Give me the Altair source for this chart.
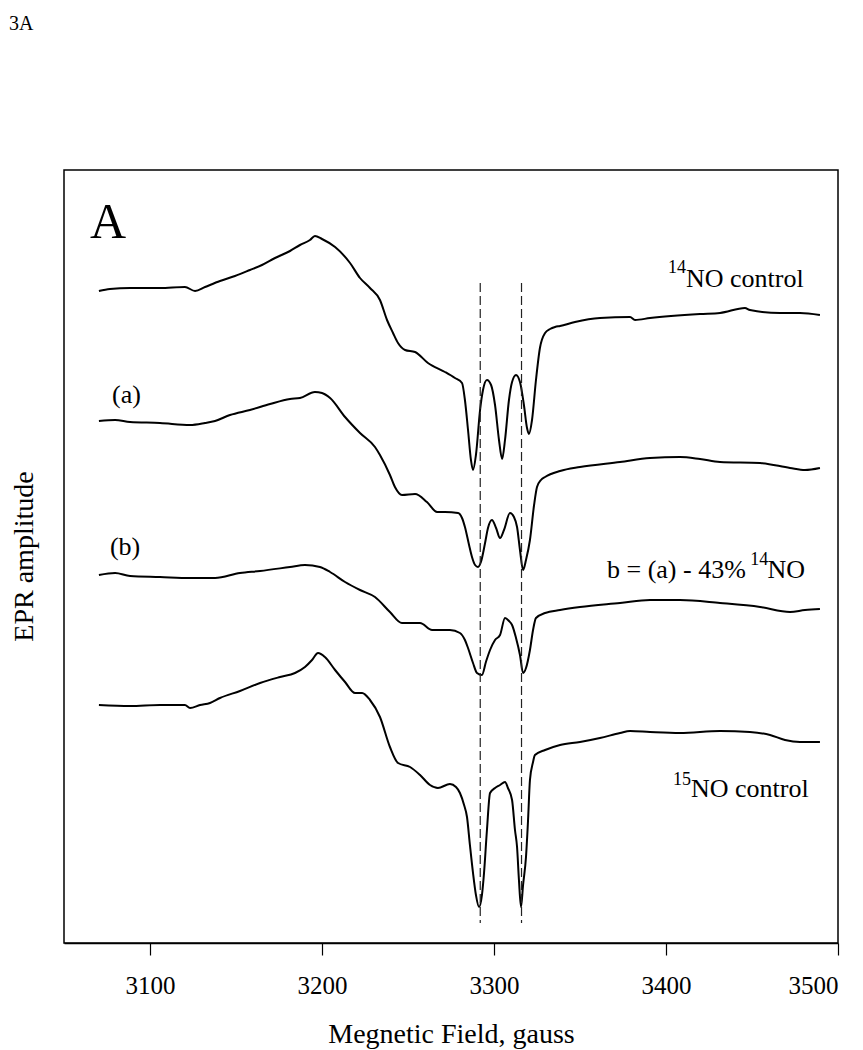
import altair as alt
import pandas as pd

# ---------------- data ----------------
# magnetic field (gauss) and EPR amplitude (arbitrary units, offset traces)
field_14no = [3070.3, 3076.7, 3088.4, 3105.8, 3120.3, 3126.2, 3132.0, 3140.7, 3149.4, 3158.1,
              3165.1, 3172.7, 3181.4, 3187.2, 3193.0, 3195.9, 3200.0, 3207.6, 3216.3, 3222.1,
              3227.9, 3233.7, 3237.8, 3241.3, 3244.2, 3248.3, 3254.1, 3261.6, 3271.5, 3277.3,
              3281.4, 3283.1, 3284.9, 3286.6, 3287.8, 3289.5, 3291.9, 3293.6, 3295.9, 3298.3,
              3300.6, 3302.9, 3304.7, 3306.4, 3308.7, 3310.5, 3312.8, 3315.1, 3317.4, 3319.2,
              3320.3, 3322.1, 3324.4, 3326.7, 3329.7, 3332.6, 3335.5, 3338.4, 3347.1, 3361.6,
              3379.1, 3382.0, 3390.7, 3419.8, 3431.4, 3445.9, 3448.8, 3466.3, 3477.9, 3489.5]
amp_14no = [652, 654, 655, 655, 656, 652, 656, 662, 667, 673,
            678, 685, 692, 698, 703, 707, 704, 696, 680, 665,
            655, 643, 623, 610, 600, 593, 591, 580, 571, 565,
            560, 543, 513, 483, 473, 488, 533, 553, 563, 558,
            538, 503, 484, 503, 543, 561, 568, 561, 538, 515,
            509, 523, 563, 595, 610, 614, 616, 617, 621, 625,
            626, 623, 625, 629, 630, 635, 633, 630, 630, 628]

field_a = [3070.3, 3079.7, 3088.4, 3105.8, 3123.3, 3132.0, 3137.8, 3146.5, 3158.1, 3169.8,
           3181.4, 3187.2, 3195.9, 3200.0, 3204.7, 3213.4, 3222.1, 3230.8, 3233.7, 3239.5,
           3242.4, 3246.5, 3254.1, 3261.0, 3266.9, 3271.5, 3279.1, 3281.4, 3283.1, 3285.5,
           3287.2, 3289.0, 3290.7, 3292.4, 3294.8, 3296.5, 3298.8, 3301.2, 3303.5, 3305.8,
           3309.3, 3311.6, 3313.4, 3315.1, 3316.9, 3318.6, 3320.9, 3323.3, 3325.0, 3327.3,
           3329.7, 3338.4, 3350.0, 3373.3, 3390.7, 3408.1, 3419.8, 3431.4, 3454.7, 3472.1,
           3480.8, 3489.5]
amp_a = [522, 523, 521, 520, 518, 520, 522, 528, 533, 539,
         544, 545, 551, 550, 545, 526, 510, 496, 488, 468,
         456, 448, 449, 441, 431, 431, 430, 425, 416, 398,
         386, 378, 376, 381, 400, 415, 423, 415, 405, 413,
         430, 426, 416, 393, 373, 383, 403, 438, 456, 463,
         466, 472, 476, 481, 485, 486, 484, 481, 480, 475,
         473, 475]

field_b = [3070.3, 3079.7, 3088.4, 3105.8, 3123.3, 3137.8, 3152.3, 3164.0, 3181.4, 3190.1,
           3198.8, 3204.7, 3213.4, 3222.1, 3230.8, 3239.5, 3246.5, 3257.0, 3264.0, 3274.4,
           3280.2, 3283.1, 3284.9, 3287.8, 3290.1, 3293.0, 3295.3, 3297.7, 3300.6, 3303.5,
           3306.4, 3308.7, 3310.5, 3312.8, 3315.1, 3316.9, 3318.6, 3320.9, 3322.7, 3324.4,
           3329.7, 3338.4, 3350.0, 3373.3, 3390.7, 3408.1, 3431.4, 3454.7, 3472.1, 3480.8,
           3489.5]
amp_b = [368, 370, 367, 366, 365, 365, 370, 372, 376, 378,
         376, 371, 361, 353, 346, 331, 320, 320, 313, 313,
         310, 303, 295, 280, 270, 268, 281, 293, 303, 308,
         325, 322, 318, 305, 288, 270, 275, 293, 313, 325,
         330, 333, 336, 340, 343, 343, 340, 336, 331, 333,
         334]

field_15no = [3070.3, 3088.4, 3105.8, 3120.3, 3123.3, 3129.1, 3134.9, 3140.7, 3152.3, 3164.0,
              3175.6, 3184.3, 3190.1, 3194.2, 3197.7, 3201.7, 3207.6, 3213.4, 3219.2, 3223.3,
              3227.9, 3233.7, 3239.5, 3244.2, 3251.2, 3257.0, 3262.8, 3267.4, 3274.4, 3277.9,
              3280.2, 3282.6, 3284.3, 3286.0, 3287.8, 3289.5, 3291.3, 3293.0, 3294.2, 3295.9,
              3297.7, 3300.6, 3303.5, 3306.4, 3308.1, 3310.5, 3312.2, 3313.4, 3314.5, 3315.7,
              3316.9, 3318.6, 3319.8, 3320.9, 3322.7, 3323.8, 3329.7, 3338.4, 3350.0, 3361.6,
              3373.3, 3379.1, 3390.7, 3408.1, 3431.4, 3448.8, 3460.5, 3469.2, 3477.9, 3489.5]
amp_15no = [238, 237, 238, 238, 235, 238, 240, 245, 252, 260,
            266, 270, 276, 283, 290, 286, 273, 261, 250, 250,
            243, 226, 196, 180, 176, 168, 158, 155, 159, 156,
            150, 138, 126, 98, 70, 48, 36, 48, 70, 113,
            150, 155, 158, 161, 155, 143, 113, 96, 63, 36,
            58, 86, 123, 163, 181, 188, 193, 198, 201, 205,
            210, 212, 211, 210, 212, 211, 208, 203, 201, 201]

# dashed reference lines
dash_fields = [3292, 3316]
dash_top = 660
dash_bottom = 20

# annotation texts
label_texts = ["3A", "A", "14", "NO control", "(a)", "(b)", "b = (a) - 43%", "14", "NO", "15", "NO control"]
label_fields = [3018.0, 3065.1, 3401.2, 3411.6, 3077.9, 3076.7, 3365.7, 3449.0, 3459.0, 3404.1, 3414.5]
label_amps = [913, 705, 670, 656, 540, 388, 365, 378, 365, 158, 146]
label_sizes = [20, 50, 18, 26, 26, 26, 26, 18, 26, 18, 26]

x_ticks = [3100, 3200, 3300, 3400, 3500]

# ---------------- build tables ----------------
rows = []
for name, fs, amps in [("14NO control", field_14no, amp_14no),
                       ("(a)", field_a, amp_a),
                       ("(b)", field_b, amp_b),
                       ("15NO control", field_15no, amp_15no)]:
    for f, a in zip(fs, amps):
        rows.append({"series": name, "field": f, "amp": a})
df = pd.DataFrame(rows)

df_dash = pd.DataFrame({"field": dash_fields,
                        "amp": [dash_top] * len(dash_fields),
                        "amp2": [dash_bottom] * len(dash_fields)})

df_lab = pd.DataFrame({"text": label_texts, "field": label_fields,
                       "amp": label_amps, "size": label_sizes})

FONT = "Liberation Serif"

x_enc = alt.X("field:Q",
              scale=alt.Scale(domain=[3050, 3500], nice=False, zero=False),
              axis=alt.Axis(values=x_ticks, title="Megnetic Field, gauss", grid=False,
                            format="d", tickSize=12, tickWidth=1.2, tickColor="black",
                            labelFont=FONT, labelFontSize=25, labelColor="black",
                            labelPadding=18, domain=True, domainColor="black",
                            domainWidth=1.5, titleFont=FONT, titleFontSize=28,
                            titleFontWeight="normal", titleColor="black",
                            titleBaseline="alphabetic", titleX=387, titleY=99))
y_enc = alt.Y("amp:Q",
              scale=alt.Scale(domain=[0, 773], nice=False, zero=False),
              axis=alt.Axis(title="EPR amplitude", labels=False, ticks=False, grid=False,
                            domain=False, titleFont=FONT, titleFontSize=28,
                            titleFontWeight="normal", titleColor="black",
                            titleBaseline="alphabetic", titleX=-32, titleY=386,
                            titleAngle=270))

lines = alt.Chart(df).mark_line(color="black", strokeWidth=2,
                                interpolate="monotone").encode(
    x=x_enc, y=y_enc, detail="series:N")

dashes = alt.Chart(df_dash).mark_rule(color="#222222", strokeWidth=1.2,
                                      strokeDash=[9, 4]).encode(
    x=x_enc, y=y_enc, y2="amp2:Q")

texts = alt.Chart(df_lab).mark_text(align="left", baseline="alphabetic",
                                    font=FONT, color="black").encode(
    x=x_enc, y=y_enc, text="text:N", size=alt.Size("size:Q", scale=None))

chart = alt.layer(lines, dashes, texts).properties(
    width=774, height=773,
    autosize=alt.AutoSizeParams(type="none"),
    padding={"left": 56, "top": 162, "right": 17, "bottom": 106},
).configure_view(stroke="black", strokeWidth=1.5)

chart.save("out.html", embed_options={"renderer": "svg", "actions": False})
